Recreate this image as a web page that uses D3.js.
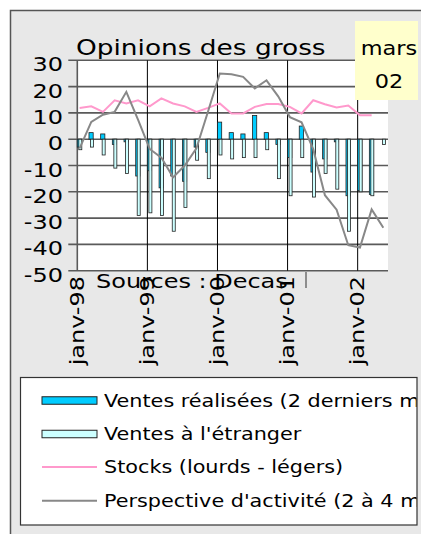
<!DOCTYPE html>
<html><head><meta charset="utf-8">
<script src="https://cdn.jsdelivr.net/npm/d3@7"></script>
<style>
html,body{margin:0;padding:0;background:#fff;}
svg{display:block;}
text{font-family:"DejaVu Sans",Verdana,sans-serif;fill:#000;}
</style></head><body>
<svg id="c" width="421" height="534"></svg>
<script>
// ---------- DATA ----------
const periods = ["janv-98","mars-98","mai-98","juil-98","sept-98","nov-98",
  "janv-99","mars-99","mai-99","juil-99","sept-99","nov-99",
  "janv-00","mars-00","mai-00","juil-00","sept-00","nov-00",
  "janv-01","mars-01","mai-01","juil-01","sept-01","nov-01",
  "janv-02","mars-02","mai-02"];
const ventesRealisees = [-3, 2.5, 2, -2, -1, -14, -12, -18.5, -14, -16, -3, -5,
  6.5, 2.5, 2, 9, 2.5, -2, -7, 5, -12.5, -7.5, -1, -21.5, -19.5, -21, null];
const ventesEtranger = [-4, -3, -6, -11, -13, -29, -28, -29, -35, -26, -8, -15,
  -6, -7.5, -7, -7, -4, -15, -21.5, -7, -22, -13, -19, -35, -20, -21.5, -2];
const stocks = [11.9, 12.5, 10.4, 14.8, 13.6, 14.8, 12.5, 15.5, 13.6, 12.5, 10.4, 11.9,
  13.6, 9.8, 9.8, 12.3, 13.4, 13.4, 12.3, 9.8, 14.8, 13.3, 12.1, 12.8, 9.1, 9.1];
const perspective = [-3.5, 6.6, 9.3, 10.4, 18, 7.4, -3.7, -7, -14.5, -10, -3.5, 10.6,
  25, 24.7, 23.7, 19.3, 22.4, 16.3, 8.4, 6.4, -3.8, -21.3, -26.8, -40.3, -41.2, -26.7, -33.7];
const yTicks = [30, 20, 10, 0, -10, -20, -30, -40, -50];
const xTickLabels = ["janv-98","janv-99","janv-00","janv-01","janv-02"];
const seriesNames = ["Ventes réalisées (2 derniers mois)", "Ventes à l'étranger",
  "Stocks (lourds - légers)", "Perspective d'activité (2 à 4 mois)"];
const titleText = "Opinions des gross";
const sourceText = "Sources : Decas";
const noteLines = ["mars", "02"];

// ---------- LAYOUT / STYLE ----------
const P = {left: 77.3, right: 388, top: 60.3, bottom: 270.7};
const C = {blue: "#00ccff", cyan: "#ccffff", pink: "#ff99cc", gray: "#888888",
  grid: "#5a5a5a", frame: "#e8e8e8"};
const SX = 1.2; // horizontal stretch of the original font
const svg = d3.select("#c");

const x = d3.scaleLinear().domain([-0.197, 26.4]).range([P.left, P.right]);
const y = d3.scaleLinear().domain([-50, 30]).range([P.bottom, P.top]);

// outer frame
svg.append("rect").attr("x", 10.5).attr("y", 10.5).attr("width", 440).attr("height", 560)
  .attr("fill", C.frame).attr("stroke", "#555").attr("stroke-width", 1.5);

// plot area
svg.append("rect").attr("x", P.left).attr("y", P.top)
  .attr("width", P.right - P.left).attr("height", P.bottom - P.top).attr("fill", "#fff");

// horizontal gridlines
svg.append("g").selectAll("line").data(yTicks).join("line")
  .attr("x1", P.left - 9).attr("x2", P.right)
  .attr("y1", d => y(d)).attr("y2", d => y(d))
  .attr("stroke", C.grid).attr("stroke-width", 1.6);

// vertical year gridlines
const gridOff = x(-0.197) - x(0);
svg.append("g").selectAll("line").data(xTickLabels.slice(1)).join("line")
  .attr("x1", d => x(periods.indexOf(d)) + gridOff).attr("x2", d => x(periods.indexOf(d)) + gridOff)
  .attr("y1", P.top).attr("y2", P.bottom)
  .attr("stroke", "#000").attr("stroke-width", 1);

// y axis line
svg.append("line").attr("x1", P.left).attr("x2", P.left).attr("y1", P.top).attr("y2", P.bottom)
  .attr("stroke", C.grid).attr("stroke-width", 1.6);

// bars
const idx = d3.range(periods.length);
const bw1 = 4.2, bw2 = 3.0, off1 = -2.3, off2 = -0.8;
svg.append("g").selectAll("rect").data(idx.filter(i => ventesRealisees[i] != null)).join("rect")
  .attr("x", i => x(i) + off1).attr("width", bw1)
  .attr("y", i => Math.min(y(0), y(ventesRealisees[i])))
  .attr("height", i => Math.abs(y(ventesRealisees[i]) - y(0)))
  .attr("fill", C.blue).attr("stroke", "#222").attr("stroke-width", 0.8);
svg.append("g").selectAll("rect").data(idx.filter(i => ventesEtranger[i] != null)).join("rect")
  .attr("x", i => x(i) + off2).attr("width", bw2)
  .attr("y", i => Math.min(y(0), y(ventesEtranger[i])))
  .attr("height", i => Math.abs(y(ventesEtranger[i]) - y(0)))
  .attr("fill", C.cyan).attr("stroke", "#222").attr("stroke-width", 0.8);

// lines
const line = d3.line().x((d, i) => x(i)).y(d => y(d));
svg.append("path").datum(stocks).attr("d", line)
  .attr("fill", "none").attr("stroke", C.pink).attr("stroke-width", 2);
svg.append("path").datum(perspective).attr("d", line)
  .attr("fill", "none").attr("stroke", C.gray).attr("stroke-width", 2);

// y tick labels
svg.append("g").selectAll("text").data(yTicks).join("text")
  .attr("transform", d => `translate(63,${y(d) + 11}) scale(${SX},1)`)
  .attr("text-anchor", "end").attr("font-size", 20).text(d => d);

// x tick labels (rotated)
svg.append("g").selectAll("text").data(xTickLabels).join("text")
  .attr("transform", d => `translate(${x(periods.indexOf(d)) + gridOff},276) rotate(-90) scale(${SX},1)`)
  .attr("text-anchor", "end").attr("dy", "0.32em").attr("font-size", 20).text(d => d);

// source text
svg.append("text").attr("transform", `translate(96,288) scale(${SX},1)`)
  .attr("font-size", 20).text(sourceText);
svg.append("line").attr("x1", 306).attr("x2", 306).attr("y1", 272).attr("y2", 288)
  .attr("stroke", "#333").attr("stroke-width", 1);

// title
svg.append("text")
  .attr("transform", `translate(76,55) scale(${SX},1)`)
  .attr("font-size", 22).text(titleText);

// note box
svg.append("rect").attr("x", 355).attr("y", 21).attr("width", 63).attr("height", 79).attr("fill", "#ffffcc");
svg.append("g").selectAll("text").data(noteLines).join("text")
  .attr("transform", (d, i) => `translate(389,${55 + i * 32.5}) scale(1.12,1)`)
  .attr("text-anchor", "middle").attr("font-size", 20).text(d => d);

// legend
const L = {x: 20.5, y: 377.5, w: 396.5, h: 147.5};
svg.append("rect").attr("x", L.x).attr("y", L.y).attr("width", L.w).attr("height", L.h)
  .attr("fill", "#fff").attr("stroke", "#333").attr("stroke-width", 1.2);
svg.append("clipPath").attr("id", "lclip").append("rect")
  .attr("x", L.x).attr("y", L.y).attr("width", L.w - 0.5).attr("height", L.h);
const rowsY = [400.5, 434, 467, 500.7];
const lg = svg.append("g").attr("clip-path", "url(#lclip)");
[C.blue, C.cyan].forEach((col, i) => {
  lg.append("rect").attr("x", 42).attr("y", rowsY[i] - 3.75).attr("width", 55).attr("height", 7.5)
    .attr("fill", col).attr("stroke", "#222").attr("stroke-width", 1);
});
[C.pink, C.gray].forEach((col, i) => {
  lg.append("line").attr("x1", 42).attr("x2", 97).attr("y1", rowsY[i + 2]).attr("y2", rowsY[i + 2])
    .attr("stroke", col).attr("stroke-width", 2);
});
lg.selectAll("text.lt").data(seriesNames).join("text").attr("class", "lt")
  .attr("transform", (d, i) => `translate(104,${rowsY[i] + 6}) scale(1.2,1)`)
  .attr("font-size", 17.3).text(d => d);
</script>
</body></html>
